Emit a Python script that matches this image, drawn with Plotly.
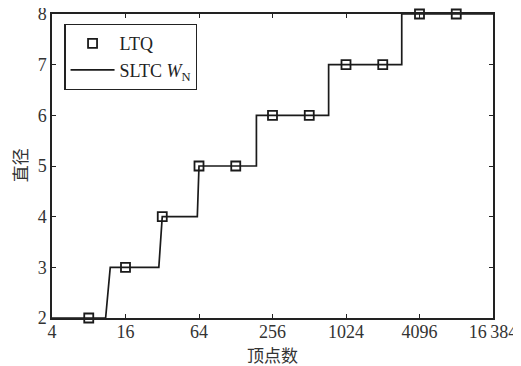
import plotly.graph_objects as go

# Data
ltq_n = [8, 16, 32, 64, 128, 256, 512, 1024, 2048, 4096, 8192]
ltq_d = [2, 3, 4, 5, 5, 6, 6, 7, 7, 8, 8]

sltc_n = [4, 11, 12, 30, 32, 62, 64, 189, 189, 738, 738, 2930, 2930, 16384]
sltc_d = [2, 2, 3, 3, 4, 4, 5, 5, 6, 6, 7, 7, 8, 8]

x_tickvals = [4, 16, 64, 256, 1024, 4096, 16384]
x_ticktext = ["4", "16", "64", "256", "1024", "4096", "16\u2009384"]
y_tickvals = [2, 3, 4, 5, 6, 7, 8]

fig = go.Figure()
fig.add_trace(go.Scatter(
    x=ltq_n, y=ltq_d, mode="markers", name="LTQ",
    marker=dict(symbol="square-open", size=9, color="#1a1a1a",
                line=dict(width=1.8, color="#1a1a1a")),
    cliponaxis=False,
))
fig.add_trace(go.Scatter(
    x=sltc_n, y=sltc_d, mode="lines", name="SLTC <i>W</i><sub>N</sub>",
    line=dict(color="#1a1a1a", width=1.7),
    cliponaxis=False,
))

serif = "Liberation Serif, Times New Roman, serif"
cjk = "Noto Sans CJK SC"
tickfont = dict(family=serif, size=18, color="#333333")

# page has an 8px body margin; figure sized to fit the 521x366 window
fig.update_layout(
    width=513, height=358,
    margin=dict(l=44, r=28, t=6, b=48, autoexpand=False),
    plot_bgcolor="white", paper_bgcolor="white",
    font=dict(family=serif, size=18, color="#222222"),
    showlegend=True,
    legend=dict(
        x=0.028, y=0.967, xanchor="left", yanchor="top",
        bordercolor="#222222", borderwidth=1.2, bgcolor="white",
        font=dict(family=serif, size=18, color="#222222"),
        tracegroupgap=0, itemwidth=44,
    ),
    xaxis=dict(
        type="log", range=[0.60206, 4.21442], automargin=False,
        tickvals=x_tickvals, ticktext=x_ticktext, tickfont=tickfont,
        ticklabeloverflow="allow", ticklabelstandoff=-3,
        ticks="inside", ticklen=4, tickwidth=1.2, tickcolor="#222222",
        showline=True, linecolor="#222222", linewidth=1.5, mirror="ticks",
        showgrid=False, zeroline=False,
    ),
    yaxis=dict(
        range=[2, 8], tickvals=y_tickvals, tickfont=tickfont, automargin=False,
        ticklabeloverflow="allow",
        ticks="inside", ticklen=4, tickwidth=1.2, tickcolor="#222222",
        showline=True, linecolor="#222222", linewidth=1.5, mirror="ticks",
        showgrid=False, zeroline=False,
    ),
    annotations=[
        dict(text="顶点数", xref="paper", yref="paper", x=0.5, y=-0.119,
             xanchor="center", yanchor="middle", showarrow=False,
             font=dict(family=cjk, size=17, color="#333333")),
        dict(text="直径", xref="paper", yref="paper", x=-0.074, y=0.504,
             xanchor="center", yanchor="middle", showarrow=False, textangle=-90,
             font=dict(family=cjk, size=17, color="#333333")),
    ],
)

fig.write_html("out.html")
